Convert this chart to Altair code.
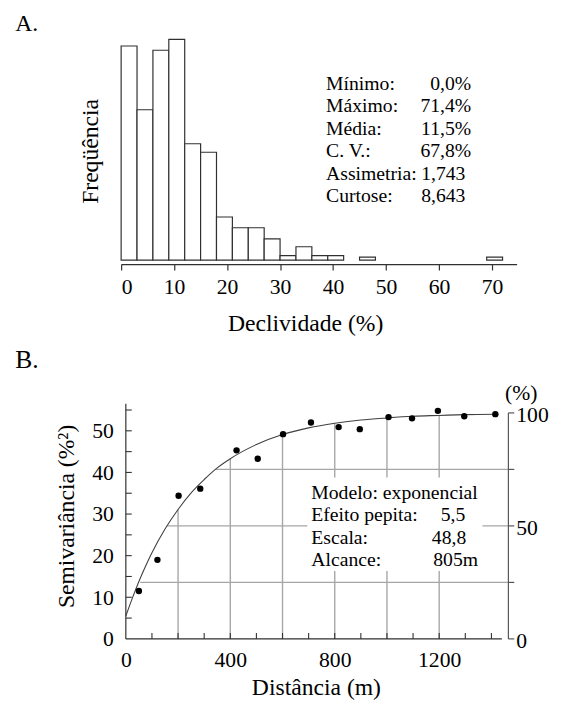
import altair as alt
import pandas as pd

FONT = "Liberation Serif, Times New Roman, serif"
INK = "#303030"
GRID = "#a6a6a6"

# ---------------- Panel A data: histogram of slope ----------------
bin_start = [0, 3, 6, 9, 12, 15, 18, 21, 24, 27, 30, 33, 36, 39, 45, 69]
bin_end = [3, 6, 9, 12, 15, 18, 21, 24, 27, 30, 33, 36, 39, 42, 48, 72]
freq = [65.5, 46.0, 64.2, 67.5, 35.6, 33.0, 13.2, 9.9, 9.9, 6.5, 1.4, 4.1, 1.4, 1.4, 0.9, 0.9]
a_ticks = [0, 10, 20, 30, 40, 50, 60, 70]
stat_names = ["Mínimo:", "Máximo:", "Média:", "C. V.:", "Assimetria:", "Curtose:"]
stat_values = ["0,0%", "71,4%", "11,5%", "67,8%", "1,743", "8,643"]

# ---------------- Panel B data: semivariogram ----------------
lag_dist = [50, 121, 202, 285, 424, 505, 602, 709, 815, 896, 1006, 1096, 1195, 1296, 1415]
semivar = [11.5, 19.0, 34.4, 36.1, 45.3, 43.3, 49.2, 52.0, 50.9, 50.4, 53.3, 53.0, 54.8, 53.5, 54.0]
model_dist = [0, 25, 50, 75, 100, 150, 200, 250, 300, 350, 400, 500, 600, 700, 800,
              900, 1000, 1100, 1200, 1300, 1415]
model_gamma = [5.5, 9.8, 13.8, 17.4, 20.7, 26.4, 31.1, 35.1, 38.3, 41.1, 43.3, 46.7, 49.1,
               50.7, 51.8, 52.6, 53.1, 53.5, 53.7, 53.9, 54.0]
sill = 54.3
b_x_labels = [0, 400, 800, 1200]
b_x_minor = [100, 200, 300, 400, 500, 600, 700, 800, 900, 1000, 1100, 1200, 1300, 1400]
b_y_labels = [0, 10, 20, 30, 40, 50]
b_y_minor = [5, 10, 15, 20, 25, 30, 35, 40, 45, 50, 55]
pct_ticks = [0, 25, 50, 75, 100]
pct_labels = [0, 50, 100]
grid_v_dist = [200, 400, 600, 800, 1000, 1200]
grid_v_top = [31.1, 43.3, 49.1, 51.8, 53.1, 53.7]
grid_h_pct = [25, 50, 75]
grid_h_start = [55, 157, 343]
model_names = ["Modelo: exponencial", "Efeito pepita:", "Escala:", "Alcance:"]
model_values = ["", "5,5", "48,8", "805m"]

# ---------------- layout ----------------
A_W, A_H = 402, 226
A_XDOM = [0, 74.65]
A_YDOM = [0, 68]
B_W, B_H = 387, 239
B_XDOM = [-18, 1440]
B_YDOM = [0, 56.5]
B_RIGHT = 1465
TICK = 6
m_per_px = (B_XDOM[1] - B_XDOM[0]) / B_W
u_per_px = (B_YDOM[1] - B_YDOM[0]) / B_H


def label_text(txt, x, y, align="left", size=20, baseline="alphabetic"):
    return alt.Chart(pd.DataFrame({"t": [txt]})).mark_text(
        align=align, baseline=baseline, fontSize=size, font=FONT, color="black"
    ).encode(text="t:N", x=alt.value(x), y=alt.value(y))


# ================= Panel A =================
dfA = pd.DataFrame({"start": bin_start, "end": bin_end, "freq": freq})
xA = alt.Scale(domain=A_XDOM, nice=False, zero=False)
yA = alt.Scale(domain=A_YDOM, nice=False)

bars = alt.Chart(dfA).mark_rect(fill="white", stroke=INK, strokeWidth=1.2).encode(
    x=alt.X("start:Q", scale=xA,
            axis=alt.Axis(values=a_ticks, offset=4, tickSize=6, tickColor=INK, domainColor=INK,
                          tickWidth=1.2, domainWidth=1.2,
                          labelFontSize=22, labelPadding=7, labelColor="black",
                          title="Declividade (%)", titleFontSize=24, titleFontWeight="normal",
                          titleColor="black", titlePadding=15, titleX=187)),
    x2="end:Q",
    y=alt.Y("freq:Q", scale=yA,
            axis=alt.Axis(labels=False, ticks=False, domain=False, grid=False,
                          title="Freqüência", titleFontSize=24, titleFontWeight="normal",
                          titleColor="black", titleAngle=270, titleX=-31, titleY=115,
                          titleAlign="center", titleBaseline="middle")),
    y2=alt.datum(0),
)

a_layers = [bars, label_text("A.", 15 - 122.7, -7.3, size=24)]
name_x = 331 - 122.7
for i, (n, v) in enumerate(zip(stat_names, stat_values)):
    ypx = 90 - 37 + i * 22.8
    a_layers.append(label_text(n, name_x, ypx))
    if i < 4:
        a_layers.append(label_text(v, 478.5 - 122.7, ypx, align="right"))
    else:
        a_layers.append(label_text(v, 427.7 - 122.7, ypx))

chartA = alt.layer(*a_layers).properties(width=A_W, height=A_H)

# ================= Panel B =================
xB = alt.Scale(domain=B_XDOM, nice=False, zero=False)
yB = alt.Scale(domain=B_YDOM, nice=False)
axBx = alt.Axis(values=b_x_labels, format="d", domain=False, ticks=False, tickSize=0, grid=False,
                labelFontSize=22, labelPadding=11, labelColor="black",
                title="Distância (m)", titleFontSize=24, titleFontWeight="normal",
                titleColor="black", titlePadding=6, titleX=198)
axBy = alt.Axis(values=b_y_labels, format="d", domain=False, ticks=False, tickSize=0, grid=False,
                labelFontSize=22, labelPadding=8, labelColor="black",
                title="Semivariância (%²)", titleFontSize=24, titleFontWeight="normal",
                titleColor="black", titleAngle=270, titleX=-55, titleY=114,
                titleAlign="center", titleBaseline="middle")


def X(f):
    return alt.X(f, scale=xB, axis=axBx)


def Y(f):
    return alt.Y(f, scale=yB, axis=axBy)


dfGV = pd.DataFrame({"d": grid_v_dist, "top": grid_v_top})
grid_v = alt.Chart(dfGV).mark_rule(color=GRID, strokeWidth=1.4).transform_calculate(
    y0="0").encode(x=X("d:Q"), y=Y("y0:Q"), y2="top:Q")

dfGH = pd.DataFrame({"pct": grid_h_pct, "start": grid_h_start})
grid_h = alt.Chart(dfGH).mark_rule(color=GRID, strokeWidth=1.4).transform_calculate(
    gy=f"datum.pct / 100 * {sill}", gx2=f"{B_RIGHT}").encode(
    x=X("start:Q"), x2="gx2:Q", y=Y("gy:Q"))

# white background of the model box (annotation styling, pixel placement)
box = alt.Chart(pd.DataFrame({"k": [0]})).mark_rect(fill="white").encode(
    x=alt.value(312 - 122.7), x2=alt.value(490 - 122.7),
    y=alt.value(478 - 403), y2=alt.value(573 - 403),
)

# axis lines (left, bottom, right percent axis)
dfAx = pd.DataFrame({
    "x1": [0, 0, B_RIGHT],
    "x2": [0, B_XDOM[1], B_RIGHT],
    "y1": [0, 0, 0],
    "y2": [B_YDOM[1], 0, sill],
    "c": ["a", "a", "b"],
})
axis_lines = alt.Chart(dfAx).mark_rule(strokeWidth=1.2).encode(
    x=X("x1:Q"), x2="x2:Q", y=Y("y1:Q"), y2="y2:Q",
    color=alt.Color("c:N", scale=alt.Scale(domain=["a", "b"], range=[INK, "#555555"]), legend=None),
)

# inward ticks on left and bottom axes
ticks_y = alt.Chart(pd.DataFrame({"v": b_y_minor})).mark_rule(color=INK, strokeWidth=1.1).transform_calculate(
    x0="0", x1=f"{TICK * m_per_px}").encode(x=X("x0:Q"), x2="x1:Q", y=Y("v:Q"))
ticks_x = alt.Chart(pd.DataFrame({"v": b_x_minor})).mark_rule(color=INK, strokeWidth=1.1).transform_calculate(
    y0="0", y1=f"{TICK * u_per_px}").encode(x=X("v:Q"), y=Y("y0:Q"), y2="y1:Q")

# right percent axis: ticks and labels
ticks_r = alt.Chart(pd.DataFrame({"p": pct_ticks})).mark_rule(color="#555555", strokeWidth=1.2).transform_calculate(
    gy=f"datum.p / 100 * {sill}", xa=f"{B_RIGHT}", xb=f"{B_RIGHT + TICK * m_per_px}").encode(
    x=X("xa:Q"), x2="xb:Q", y=Y("gy:Q"))
labels_r = alt.Chart(pd.DataFrame({"p": pct_labels})).mark_text(
    align="left", baseline="middle", fontSize=22, font=FONT, color="black", dy=2).transform_calculate(
    gy=f"datum.p / 100 * {sill}", xa=f"{B_RIGHT + 8 * m_per_px}", lab="'' + datum.p").encode(
    x=X("xa:Q"), y=Y("gy:Q"), text="lab:N")
pct_title = alt.Chart(pd.DataFrame({"t": ["(%)"]})).mark_text(
    align="center", baseline="middle", fontSize=22, font=FONT, color="black").transform_calculate(
    xa=f"{B_RIGHT + 13 * m_per_px}", ya=f"{B_YDOM[1] + 11 * u_per_px}").encode(
    x=X("xa:Q"), y=Y("ya:Q"), text="t:N")

curve = alt.Chart(pd.DataFrame({"d": model_dist, "g": model_gamma})).mark_line(
    color="#404040", strokeWidth=1.1, interpolate="monotone").encode(x=X("d:Q"), y=Y("g:Q"))

pts = alt.Chart(pd.DataFrame({"d": lag_dist, "g": semivar})).mark_circle(
    color="black", size=42, opacity=1).encode(x=X("d:Q"), y=Y("g:Q"))

b_layers = [grid_v, grid_h, box, axis_lines, ticks_y, ticks_x, ticks_r, labels_r, pct_title,
            curve, pts, label_text("B.", 15 - 122.7, 366.7 - 403, size=26)]
val_right = [None, 472.5, 473.5, 485.5]
for i, (n, v) in enumerate(zip(model_names, model_values)):
    ypx = 500 - 403 + i * 22.6
    b_layers.append(label_text(n, 316 - 122.7, ypx))
    if v:
        b_layers.append(label_text(v, val_right[i] - 122.7, ypx, align="right"))

chartB = alt.layer(*b_layers).properties(width=B_W, height=B_H)

chart = alt.vconcat(chartA, chartB, spacing=11).properties(
    padding={"left": 7, "top": -2.5, "right": 5, "bottom": 5},
).configure_view(stroke=None).configure_axis(
    labelFont=FONT, titleFont=FONT, grid=False,
).configure_text(font=FONT)

chart.save("out.html", embed_options={"renderer": "svg", "actions": False})
